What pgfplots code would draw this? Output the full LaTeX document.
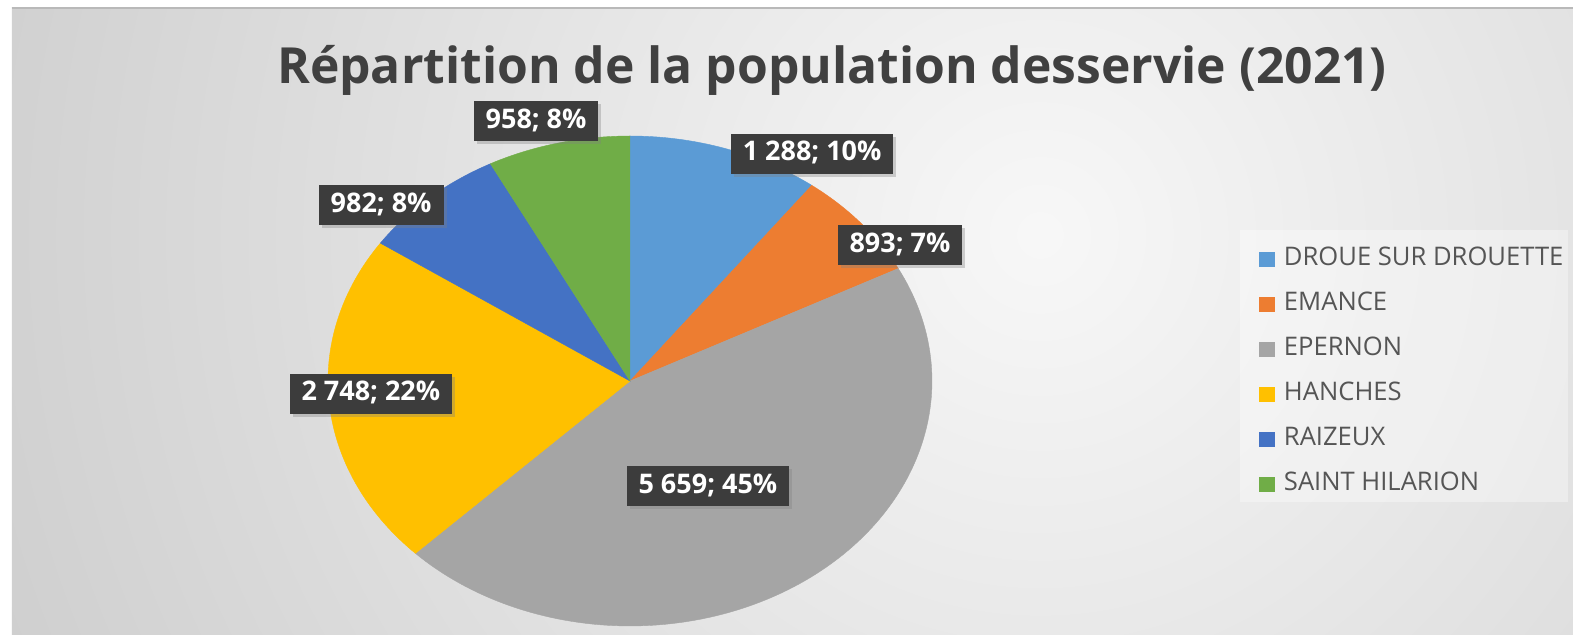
\documentclass[border=0pt]{standalone}
\usepackage{pgfplots}
\pgfplotsset{compat=1.18}
\usepackage{fontspec}
\setmainfont{Open Sans}
\usetikzlibrary{shadows,backgrounds}
\definecolor{cA}{HTML}{5B9BD5}
\definecolor{cB}{HTML}{ED7D31}
\definecolor{cC}{HTML}{A5A5A5}
\definecolor{cD}{HTML}{FFC000}
\definecolor{cE}{HTML}{4472C4}
\definecolor{cF}{HTML}{70AD47}
\definecolor{labbg}{HTML}{3C3C3C}
\definecolor{titlec}{HTML}{404040}
\definecolor{legc}{HTML}{555555}
% data
\def\vA{1288}\def\vB{893}\def\vC{5659}\def\vD{2748}\def\vE{982}\def\vF{958}
\pgfmathsetmacro\tot{\vA+\vB+\vC+\vD+\vE+\vF}
\pgfmathsetmacro\aA{90}
\pgfmathsetmacro\aB{\aA-\vA/\tot*360}
\pgfmathsetmacro\aC{\aB-\vB/\tot*360}
\pgfmathsetmacro\aD{\aC-\vC/\tot*360}
\pgfmathsetmacro\aE{\aD-\vD/\tot*360}
\pgfmathsetmacro\aF{\aE-\vE/\tot*360}
\pgfmathsetmacro\aG{\aF-\vF/\tot*360}
\tikzset{lab/.style={fill=labbg, text=white, font=\fontsize{13.5}{15}\selectfont\bfseries,
  inner xsep=6pt, inner ysep=3.5pt, text height=10pt, text depth=3pt,
  drop shadow={shadow xshift=1.5pt, shadow yshift=-1.5pt, opacity=0.35}}}
\begin{document}
\begin{tikzpicture}
\begin{axis}[at={(0pt,0pt)}, anchor=origin, scale only axis, width=302pt, height=245pt,
  xmin=-1, xmax=1, ymin=-1, ymax=1, hide axis, clip=false,
  legend style={draw=none, fill=none, inner sep=0pt, at={(axis description cs:1.540,0.7737)}, anchor=north west,
    font=\fontsize{12.8}{14}\selectfont, text=legc, row sep=10.8pt, column sep=5pt,
    nodes={inner sep=0pt, text height=9.2pt, text depth=2.5pt}},
  legend cell align=left,
  legend image code/.code={\fill[#1] (0pt,-3.5pt) rectangle (7.5pt,3.5pt);}]
\addplot[fill=cA, draw=cA, line width=0.2pt, domain=\aB:\aA, samples=80] ({cos(x)},{sin(x)}) -- (axis cs:0,0) -- cycle;
\addlegendentry{DROUE SUR DROUETTE}
\addplot[fill=cB, draw=cB, line width=0.2pt, domain=\aC:\aB, samples=80] ({cos(x)},{sin(x)}) -- (axis cs:0,0) -- cycle;
\addlegendentry{EMANCE}
\addplot[fill=cC, draw=cC, line width=0.2pt, domain=\aD:\aC, samples=120] ({cos(x)},{sin(x)}) -- (axis cs:0,0) -- cycle;
\addlegendentry{EPERNON}
\addplot[fill=cD, draw=cD, line width=0.2pt, domain=\aE:\aD, samples=80] ({cos(x)},{sin(x)}) -- (axis cs:0,0) -- cycle;
\addlegendentry{HANCHES}
\addplot[fill=cE, draw=cE, line width=0.2pt, domain=\aF:\aE, samples=80] ({cos(x)},{sin(x)}) -- (axis cs:0,0) -- cycle;
\addlegendentry{RAIZEUX}
\addplot[fill=cF, draw=cF, line width=0.2pt, domain=\aG:\aF, samples=80] ({cos(x)},{sin(x)}) -- (axis cs:0,0) -- cycle;
\addlegendentry{SAINT HILARION}
\coordinate (O) at (axis cs:0,0);
\node[lab] at (axis cs:0.603,0.927) {1 288; 10\%};
\node[lab] at (axis cs:0.894,0.555) {893; 7\%};
\node[lab] at (axis cs:0.258,-0.429) {5 659; 45\%};
\node[lab] at (axis cs:-0.858,-0.053) {2 748; 22\%};
\node[lab] at (axis cs:-0.824,0.718) {982; 8\%};
\node[lab] at (axis cs:-0.311,1.061) {958; 8\%};
\end{axis}
\begin{scope}[shift={(O)}, xshift=-315pt, yshift=-127pt, x=1pt, y=1pt]
\node[font=\fontsize{24.9}{28}\selectfont\bfseries, text=titlec] at (416,282.5) {Répartition de la population desservie (2021)};
\begin{scope}[on background layer]
\fill[white] (0,0) rectangle (786.5,317.5);
\begin{scope}
\clip (6,0) rectangle (786.5,313.5);
\fill[gray!38] (6,0) rectangle (786.5,313.5);
\shade[inner color=gray!6, outer color=gray!38] (520,200) circle (560);
\end{scope}
\draw[gray!55, line width=0.8pt] (6,313.5) -- (786.5,313.5);
\fill[white, opacity=0.35] (620,66.5) rectangle (784,202.5);
\end{scope}
\pgfresetboundingbox
\useasboundingbox (0,0) rectangle (786.5,317.5);
\end{scope}
\end{tikzpicture}
\end{document}
